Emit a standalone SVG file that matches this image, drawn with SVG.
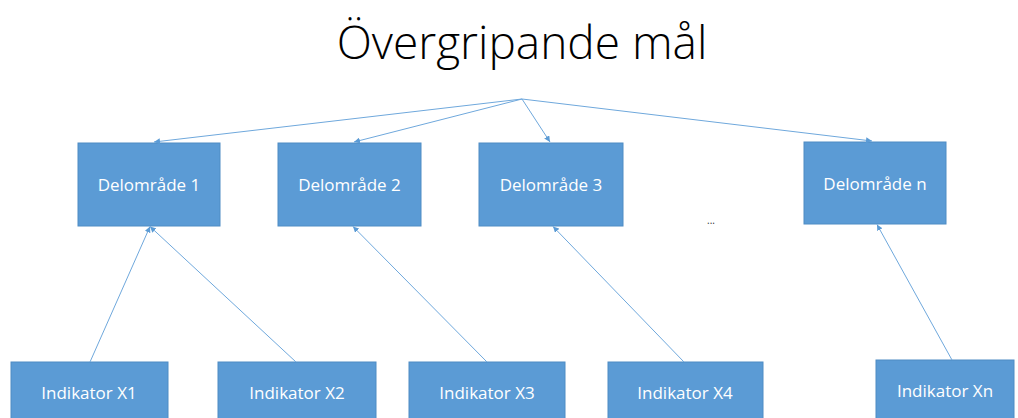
<svg xmlns="http://www.w3.org/2000/svg" width="1018" height="418" viewBox="0 0 1018 418">
<style>
.box{fill:#5b9bd5;stroke:#4f8cc4;stroke-width:1}
.lbl{font-family:"Open Sans","Liberation Sans",sans-serif;font-size:17px;fill:#ffffff;text-anchor:middle}
.title{font-family:"Open Sans","Liberation Sans",sans-serif;font-weight:300;font-size:46px;fill:#000000;text-anchor:middle}
.con line{stroke:#6fa8dc;stroke-width:1;fill:none;marker-end:url(#ah)}
</style>
<defs>
<marker id="ah" viewBox="0 0 10 10" refX="10" refY="5" markerWidth="6" markerHeight="6" orient="auto" markerUnits="userSpaceOnUse">
<path d="M0,0 L10,5 L0,10 z" fill="#5b9bd5"/>
</marker>
</defs>
<rect width="1018" height="418" fill="#ffffff"/>
<text class="title" x="522" y="59">Övergripande mål</text>
<g id="d1"><rect class="box" x="78" y="143" width="142" height="83"/><text class="lbl" x="149" y="191">Delområde 1</text></g>
<g id="d2"><rect class="box" x="278" y="143" width="143" height="83"/><text class="lbl" x="349.5" y="191">Delområde 2</text></g>
<g id="d3"><rect class="box" x="479" y="143" width="144" height="83"/><text class="lbl" x="551" y="191">Delområde 3</text></g>
<g id="dn"><rect class="box" x="804" y="142" width="142" height="82"/><text class="lbl" x="875" y="190">Delområde n</text></g>
<text x="711" y="224" font-family="Open Sans, Liberation Sans, sans-serif" font-size="10" fill="#333" text-anchor="middle">...</text>
<g id="x1"><rect class="box" x="11" y="362" width="157" height="60"/><text class="lbl" x="89" y="399">Indikator X1</text></g>
<g id="x2"><rect class="box" x="218" y="362" width="158" height="60"/><text class="lbl" x="297" y="399">Indikator X2</text></g>
<g id="x3"><rect class="box" x="409" y="362" width="156" height="60"/><text class="lbl" x="487" y="399">Indikator X3</text></g>
<g id="x4"><rect class="box" x="608" y="362" width="155" height="60"/><text class="lbl" x="685" y="399">Indikator X4</text></g>
<g id="xn"><rect class="box" x="876" y="360" width="138" height="62"/><text class="lbl" x="945" y="397">Indikator Xn</text></g>
<g class="con" id="connectors">
<line x1="522" y1="99" x2="154" y2="142"/>
<line x1="522" y1="99" x2="354" y2="142"/>
<line x1="522" y1="99" x2="550" y2="142"/>
<line x1="522" y1="99" x2="872" y2="141"/>
<line x1="90" y1="362" x2="150" y2="226.5"/>
<line x1="296" y1="362" x2="150" y2="226.5"/>
<line x1="487" y1="362" x2="353" y2="226.5"/>
<line x1="684" y1="362" x2="553" y2="226.5"/>
<line x1="952" y1="360" x2="877" y2="224.5"/>
</g>
</svg>
